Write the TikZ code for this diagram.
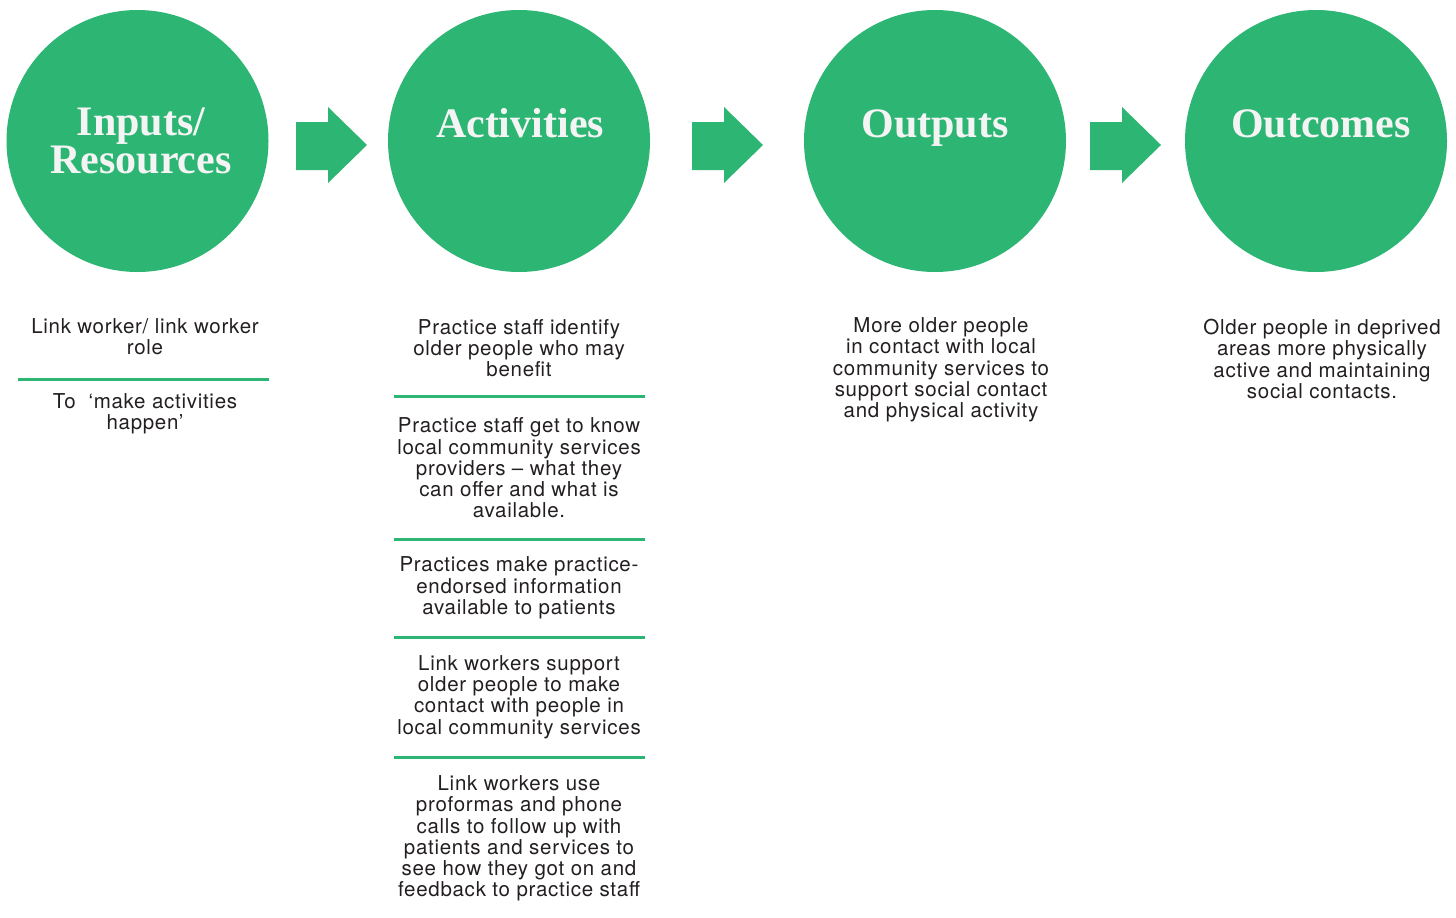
\documentclass[tikz,border=0pt]{standalone}
\usepackage{fontspec}
\setmainfont{TeX Gyre Heros}[LetterSpace=3.5]
\newfontfamily\titlefont{Liberation Serif}
\definecolor{lgreen}{HTML}{2DB673}
\definecolor{ltext}{HTML}{231F20}
\definecolor{ltitle}{HTML}{F4F4F4}
\begin{document}
\begin{tikzpicture}[x=1pt,y=-1pt,
  bigcircle/.style={circle,fill=lgreen,draw=none,minimum size=262pt,inner sep=0pt},
  titletext/.style={text=ltitle,font=\titlefont\bfseries\fontsize{42}{38}\selectfont,align=center,inner sep=0pt},
  bodytext/.style={text=ltext,font=\fontsize{20.5}{21.3}\selectfont,align=center,inner sep=0pt},
  sepline/.style={draw=lgreen,line width=3pt},
  flowarrow/.style={fill=lgreen,draw=none}]
\useasboundingbox (0,0) rectangle (1456,918);
% circles
\node[bigcircle] (c1) at (137.5,141) {};
\node[bigcircle] (c2) at (519,141) {};
\node[bigcircle] (c3) at (935,141) {};
\node[bigcircle] (c4) at (1316,141) {};
\node[titletext] (t1) at (141,141) {Inputs/\\Resources};
\node[titletext,anchor=base] (t2) at (520,137) {Activities};
\node[titletext,anchor=base] (t3) at (935,137) {Outputs};
\node[titletext,anchor=base] (t4) at (1321,137) {Outcomes};
% arrows
\foreach \ax in {296,692,1090}{
  \fill[flowarrow] (\ax,122) -- (\ax+32,122) -- (\ax+32,107) -- (\ax+71,145)
     -- (\ax+32,183) -- (\ax+32,170) -- (\ax,170) -- cycle;
}
% column 1
\node[bodytext] (a1) at (145,337) {Link worker/ link worker\\role};
\coordinate (l1a) at (18,379);
\coordinate (l1b) at (269,379);
\draw[sepline] (l1a) -- (l1b);
\node[bodytext] (a2) at (145,414) {To\ \ ‘make activities\\happen’};
% column 2
\node[bodytext] (b1) at (519,348) {Practice staff identify\\older people who may\\benefit};
\coordinate (l2a) at (394,396); \coordinate (l2b) at (645,396);
\draw[sepline] (l2a) -- (l2b);
\node[bodytext] (b2) at (519,468) {Practice staff get to know\\local community services\\providers – what they\\can offer and what is\\available.};
\coordinate (l3a) at (394,539); \coordinate (l3b) at (645,539);
\draw[sepline] (l3a) -- (l3b);
\node[bodytext] (b3) at (519,588) {Practices make practice-\\endorsed information\\available to patients};
\coordinate (l4a) at (394,637); \coordinate (l4b) at (645,637);
\draw[sepline] (l4a) -- (l4b);
\node[bodytext] (b4) at (519,697) {Link workers support\\older people to make\\contact with people in\\local community services};
\coordinate (l5a) at (394,757); \coordinate (l5b) at (645,757);
\draw[sepline] (l5a) -- (l5b);
\node[bodytext] (b5) at (519,838.5) {Link workers use\\proformas and phone\\calls to follow up with\\patients and services to\\see how they got on and\\feedback to practice staff};
% column 3
\node[bodytext] (o1) at (941,370) {More older people\\in contact with local\\community services to\\support social contact\\and physical activity};
% column 4
\node[bodytext] (u1) at (1322,359) {Older people in deprived\\areas more physically\\active and maintaining\\social contacts.};
\end{tikzpicture}
\end{document}
